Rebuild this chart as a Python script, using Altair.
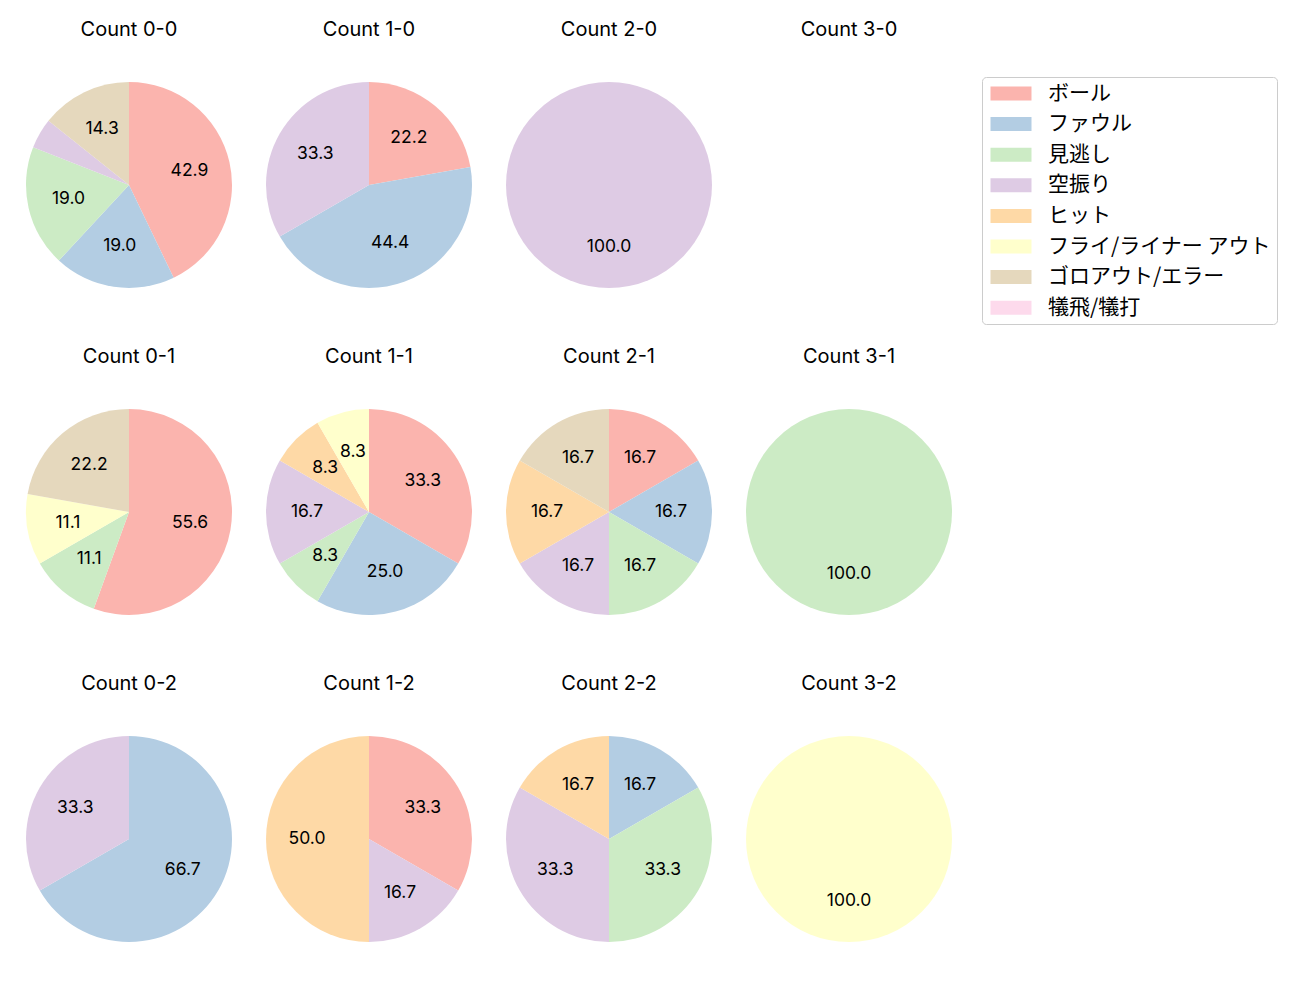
import altair as alt
import pandas as pd

categories = ["ボール", "ファウル", "見逃し", "空振り", "ヒット",
              "フライ/ライナー アウト", "ゴロアウト/エラー", "犠飛/犠打"]
colors = ["#fbb4ae", "#b3cde3", "#ccebc5", "#decbe4", "#fed9a6",
          "#ffffcc", "#e5d8bd", "#fddaec"]

grid_titles = [
    ["Count 0-0", "Count 1-0", "Count 2-0", "Count 3-0"],
    ["Count 0-1", "Count 1-1", "Count 2-1", "Count 3-1"],
    ["Count 0-2", "Count 1-2", "Count 2-2", "Count 3-2"],
]

# pitch counts per category (same order as categories)
c_0_0 = [9, 4, 4, 1, 0, 0, 3, 0]
c_1_0 = [2, 4, 0, 3, 0, 0, 0, 0]
c_2_0 = [0, 0, 0, 1, 0, 0, 0, 0]
c_3_0 = [0, 0, 0, 0, 0, 0, 0, 0]
c_0_1 = [5, 0, 1, 0, 0, 1, 2, 0]
c_1_1 = [4, 3, 1, 2, 1, 1, 0, 0]
c_2_1 = [1, 1, 1, 1, 1, 0, 1, 0]
c_3_1 = [0, 0, 1, 0, 0, 0, 0, 0]
c_0_2 = [0, 2, 0, 1, 0, 0, 0, 0]
c_1_2 = [2, 0, 0, 1, 3, 0, 0, 0]
c_2_2 = [0, 1, 2, 2, 1, 0, 0, 0]
c_3_2 = [0, 0, 0, 0, 0, 1, 0, 0]

counts = {
    "Count 0-0": c_0_0, "Count 1-0": c_1_0, "Count 2-0": c_2_0, "Count 3-0": c_3_0,
    "Count 0-1": c_0_1, "Count 1-1": c_1_1, "Count 2-1": c_2_1, "Count 3-1": c_3_1,
    "Count 0-2": c_0_2, "Count 1-2": c_1_2, "Count 2-2": c_2_2, "Count 3-2": c_3_2,
}

JP_FONT = "Noto Sans CJK JP"
LAT_FONT = "Inter"
R = 103

color_enc = alt.Color(
    "cat:N",
    scale=alt.Scale(domain=categories, range=colors),
    legend=alt.Legend(
        title=None, orient="none", legendX=956, legendY=-5,
        symbolType="M-1.143,-1H4.714V1H-1.143Z", symbolSize=196,
        symbolStrokeWidth=0, symbolOpacity=1,
        labelFont=JP_FONT, labelFontSize=21, labelColor="black", labelOffset=39,
        labelLimit=400, padding=6, rowPadding=8.6,
        strokeColor="#cccccc", fillColor="white", cornerRadius=4,
        values=categories,
    ),
)


def panel(title):
    df = pd.DataFrame({"cat": categories, "idx": list(range(len(categories))),
                       "count": counts[title]})
    df = df[df["count"] > 0]
    base = (
        alt.Chart(df)
        .transform_joinaggregate(total="sum(count)")
        .transform_calculate(
            pct="100 * datum.count / datum.total",
            label="datum.pct >= 5 ? format(datum.pct, '.1f') : ''",
        )
        .encode(
            theta=alt.Theta("count:Q", stack="normalize"),
            order=alt.Order("idx:Q"),
        )
    )
    arcs = base.mark_arc(outerRadius=R).encode(color=color_enc)
    text = base.mark_text(radius=62, font=LAT_FONT, fontSize=17.5,
                          color="black").encode(text="label:N")
    return alt.layer(arcs, text).properties(
        width=206, height=206,
        title=alt.TitleParams(title, font=LAT_FONT, fontSize=20, fontWeight="normal",
                              color="black", anchor="middle", offset=42),
    )


rows = [alt.hconcat(*[panel(t) for t in row], spacing=34) for row in grid_titles]
chart = (
    alt.vconcat(*rows, spacing=59)
    .properties(padding={"left": 18, "top": 12, "right": 5, "bottom": 5})
    .configure_view(stroke=None)
)

chart.save("out.html", embed_options={"renderer": "svg", "actions": False})
